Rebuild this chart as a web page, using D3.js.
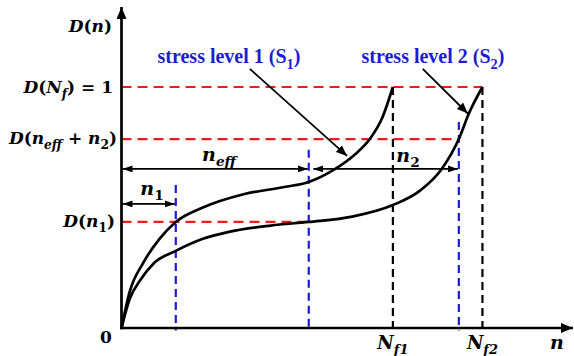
<!DOCTYPE html>
<html>
<head>
<meta charset="utf-8">
<script src="https://cdn.jsdelivr.net/npm/d3@7"></script>
<style>
  html, body { margin: 0; padding: 0; background: #ffffff; }
  svg { display: block; }
</style>
</head>
<body>
<script>
// Damage evolution D(n) under two stress levels (schematic, n in arbitrary cycle units)
const curveS1 = [[0,0],[3,0.15],[8,0.27],[14,0.37],[20,0.44],[30,0.50],[45,0.555],[60,0.585],
                 [69,0.606],[78,0.655],[86,0.72],[91.5,0.784],[96,0.87],[100,1.0]];
const curveS2 = [[0,0],[3,0.12],[7,0.2],[12,0.27],[20,0.32],[30,0.37],[40,0.40],[55,0.425],
                 [69,0.44],[85,0.462],[100,0.51],[110,0.57],[118,0.66],[124.3,0.784],[128,0.89],[133,1.0]];

// Cycle counts on the n axis
const cycleMarks = { n1: 20, nEff: 69, nEffN2: 124.3, Nf1: 100, Nf2: 133 };
// Damage levels on the D axis
const damageMarks = { dN1: 0.44, dEffN2: 0.784, dFail: 1 };

const W = 574, H = 356;
const x = d3.scaleLinear().domain([0, 166]).range([121.5, 572]);
const y = d3.scaleLinear().domain([0, 1]).range([328, 87]);

const RED = "#ee1c1c", BLUE = "#1c1cd2", INK = "#000000";
const MATH_FONT = "'DejaVu Serif', serif";
const TEXT_FONT = "'Liberation Serif', 'Times New Roman', serif";

const svg = d3.select("body").append("svg").attr("width", W).attr("height", H);
const defs = svg.append("defs");

function marker(id, len, half) {
  defs.append("marker").attr("id", id)
    .attr("viewBox", `0 ${-half} ${len} ${2 * half}`)
    .attr("refX", len).attr("refY", 0)
    .attr("markerUnits", "userSpaceOnUse")
    .attr("markerWidth", len).attr("markerHeight", 2 * half)
    .attr("orient", "auto-start-reverse")
    .append("path").attr("d", `M0,${-half}L${len},0L0,${half}Z`).attr("fill", INK);
}
marker("axisHead", 12, 5);
marker("dimHead", 10, 3.5);
marker("callHead", 11, 4.5);

// Reference lines
const refLines = svg.append("g").attr("fill", "none");
function hLine(d, n1, col, dash) {
  refLines.append("line").attr("x1", x(0)).attr("x2", x(n1)).attr("y1", y(d)).attr("y2", y(d))
    .attr("stroke", col).attr("stroke-width", 2.2).attr("stroke-dasharray", dash);
}
function vLine(n, d0, d1, col, dash) {
  refLines.append("line").attr("x1", x(n)).attr("x2", x(n)).attr("y1", y(d0)).attr("y2", y(d1))
    .attr("stroke", col).attr("stroke-width", 2.2).attr("stroke-dasharray", dash);
}
hLine(damageMarks.dFail, cycleMarks.Nf2, RED, "10,6");
hLine(damageMarks.dEffN2, cycleMarks.nEffN2, RED, "10,6");
hLine(damageMarks.dN1, cycleMarks.nEff, RED, "10,6");
vLine(cycleMarks.n1, 0.593, -0.01, BLUE, "8,5");
vLine(cycleMarks.nEff, 0.74, -0.01, BLUE, "8,5");
vLine(cycleMarks.nEffN2, 0.855, -0.01, BLUE, "8,5");
vLine(cycleMarks.Nf1, damageMarks.dFail, 0, INK, "8,5");
vLine(cycleMarks.Nf2, damageMarks.dFail, 0, INK, "8,5");

// Damage curves
const line = d3.line().x(d => x(d[0])).y(d => y(d[1])).curve(d3.curveMonotoneX);
svg.append("g").attr("fill", "none").attr("stroke", INK).attr("stroke-width", 2.7)
  .selectAll("path").data([curveS1, curveS2]).join("path").attr("d", line);

// Axes with arrowheads
svg.append("line").attr("x1", x(0) - 1.3).attr("x2", 573).attr("y1", y(0)).attr("y2", y(0))
  .attr("stroke", INK).attr("stroke-width", 2.7).attr("marker-end", "url(#axisHead)");
svg.append("line").attr("x1", x(0)).attr("x2", x(0)).attr("y1", y(0) + 1.3).attr("y2", 7)
  .attr("stroke", INK).attr("stroke-width", 2.7).attr("marker-end", "url(#axisHead)");

// Dimension arrows for n1, n_eff, n2
function dim(n0, n1, d) {
  svg.append("line").attr("x1", x(n0) + 1).attr("x2", x(n1) - 1).attr("y1", y(d)).attr("y2", y(d))
    .attr("stroke", INK).attr("stroke-width", 1.8)
    .attr("marker-start", "url(#dimHead)").attr("marker-end", "url(#dimHead)");
}
dim(0, cycleMarks.n1, 0.515);
dim(0, cycleMarks.nEff, 0.66);
dim(cycleMarks.nEff + 1.3, cycleMarks.nEffN2, 0.66);

// Callout arrows from the stress-level labels
function callout(a, b) {
  svg.append("line").attr("x1", x(a[0])).attr("y1", y(a[1])).attr("x2", x(b[0])).attr("y2", y(b[1]))
    .attr("stroke", INK).attr("stroke-width", 1.8).attr("marker-end", "url(#callHead)");
}
callout([47.3, 1.075], [83.1, 0.714]);
callout([111, 1.075], [127.6, 0.89]);

// Math-style labels: parts are [text, kind] with kind i = italic, r = upright, s = italic subscript, d = upright subscript
function mathLabel(px, py, parts, anchor, size, fill, font) {
  const t = svg.append("text").attr("x", px).attr("y", py).attr("text-anchor", anchor)
    .attr("font-family", font).attr("font-weight", "bold").attr("font-size", size).attr("fill", fill);
  let shifted = false;
  parts.forEach(([txt, kind]) => {
    const sub = kind === "s" || kind === "d";
    const ts = t.append("tspan").text(txt)
      .attr("font-style", (kind === "i" || kind === "s") ? "italic" : "normal");
    if (sub) { ts.attr("font-size", size * 0.72); if (!shifted) { ts.attr("dy", size * 0.28); shifted = true; } }
    else if (shifted) { ts.attr("dy", -size * 0.28); shifted = false; }
  });
  return t;
}

const F = 17;
mathLabel(112, 32, [["D","i"],["(","r"],["n","i"],[")","r"]], "end", F, INK, MATH_FONT);
mathLabel(113, 93, [["D","i"],["(","r"],["N","i"],["f","s"],[")","r"],[" = 1","r"]], "end", F, INK, MATH_FONT);
mathLabel(117, 144, [["D","i"],["(","r"],["n","i"],["eff","s"],[" + ","r"],["n","i"],["2","d"],[")","r"]], "end", F, INK, MATH_FONT);
mathLabel(115, 227, [["D","i"],["(","r"],["n","i"],["1","d"],[")","r"]], "end", F, INK, MATH_FONT);
mathLabel(106, 343, [["0","r"]], "middle", F, INK, MATH_FONT);
mathLabel(152, 195, [["n","i"],["1","d"]], "middle", 19, INK, MATH_FONT);
mathLabel(219, 161, [["n","i"],["eff","s"]], "middle", 19, INK, MATH_FONT);
mathLabel(408, 162, [["n","i"],["2","d"]], "middle", 19, INK, MATH_FONT);
mathLabel(x(cycleMarks.Nf1), 349, [["N","i"],["f1","s"]], "middle", 18, INK, MATH_FONT);
mathLabel(x(cycleMarks.Nf2), 349, [["N","i"],["f2","s"]], "middle", 18, INK, MATH_FONT);
mathLabel(557, 349, [["n","i"]], "middle", 19, INK, MATH_FONT);

// Stress level labels
mathLabel(229, 63, [["stress level 1 (S","r"],["1","d"],[")","r"]], "middle", 20, BLUE, TEXT_FONT);
mathLabel(433, 63, [["stress level 2 (S","r"],["2","d"],[")","r"]], "middle", 20, BLUE, TEXT_FONT);
</script>
</body>
</html>
